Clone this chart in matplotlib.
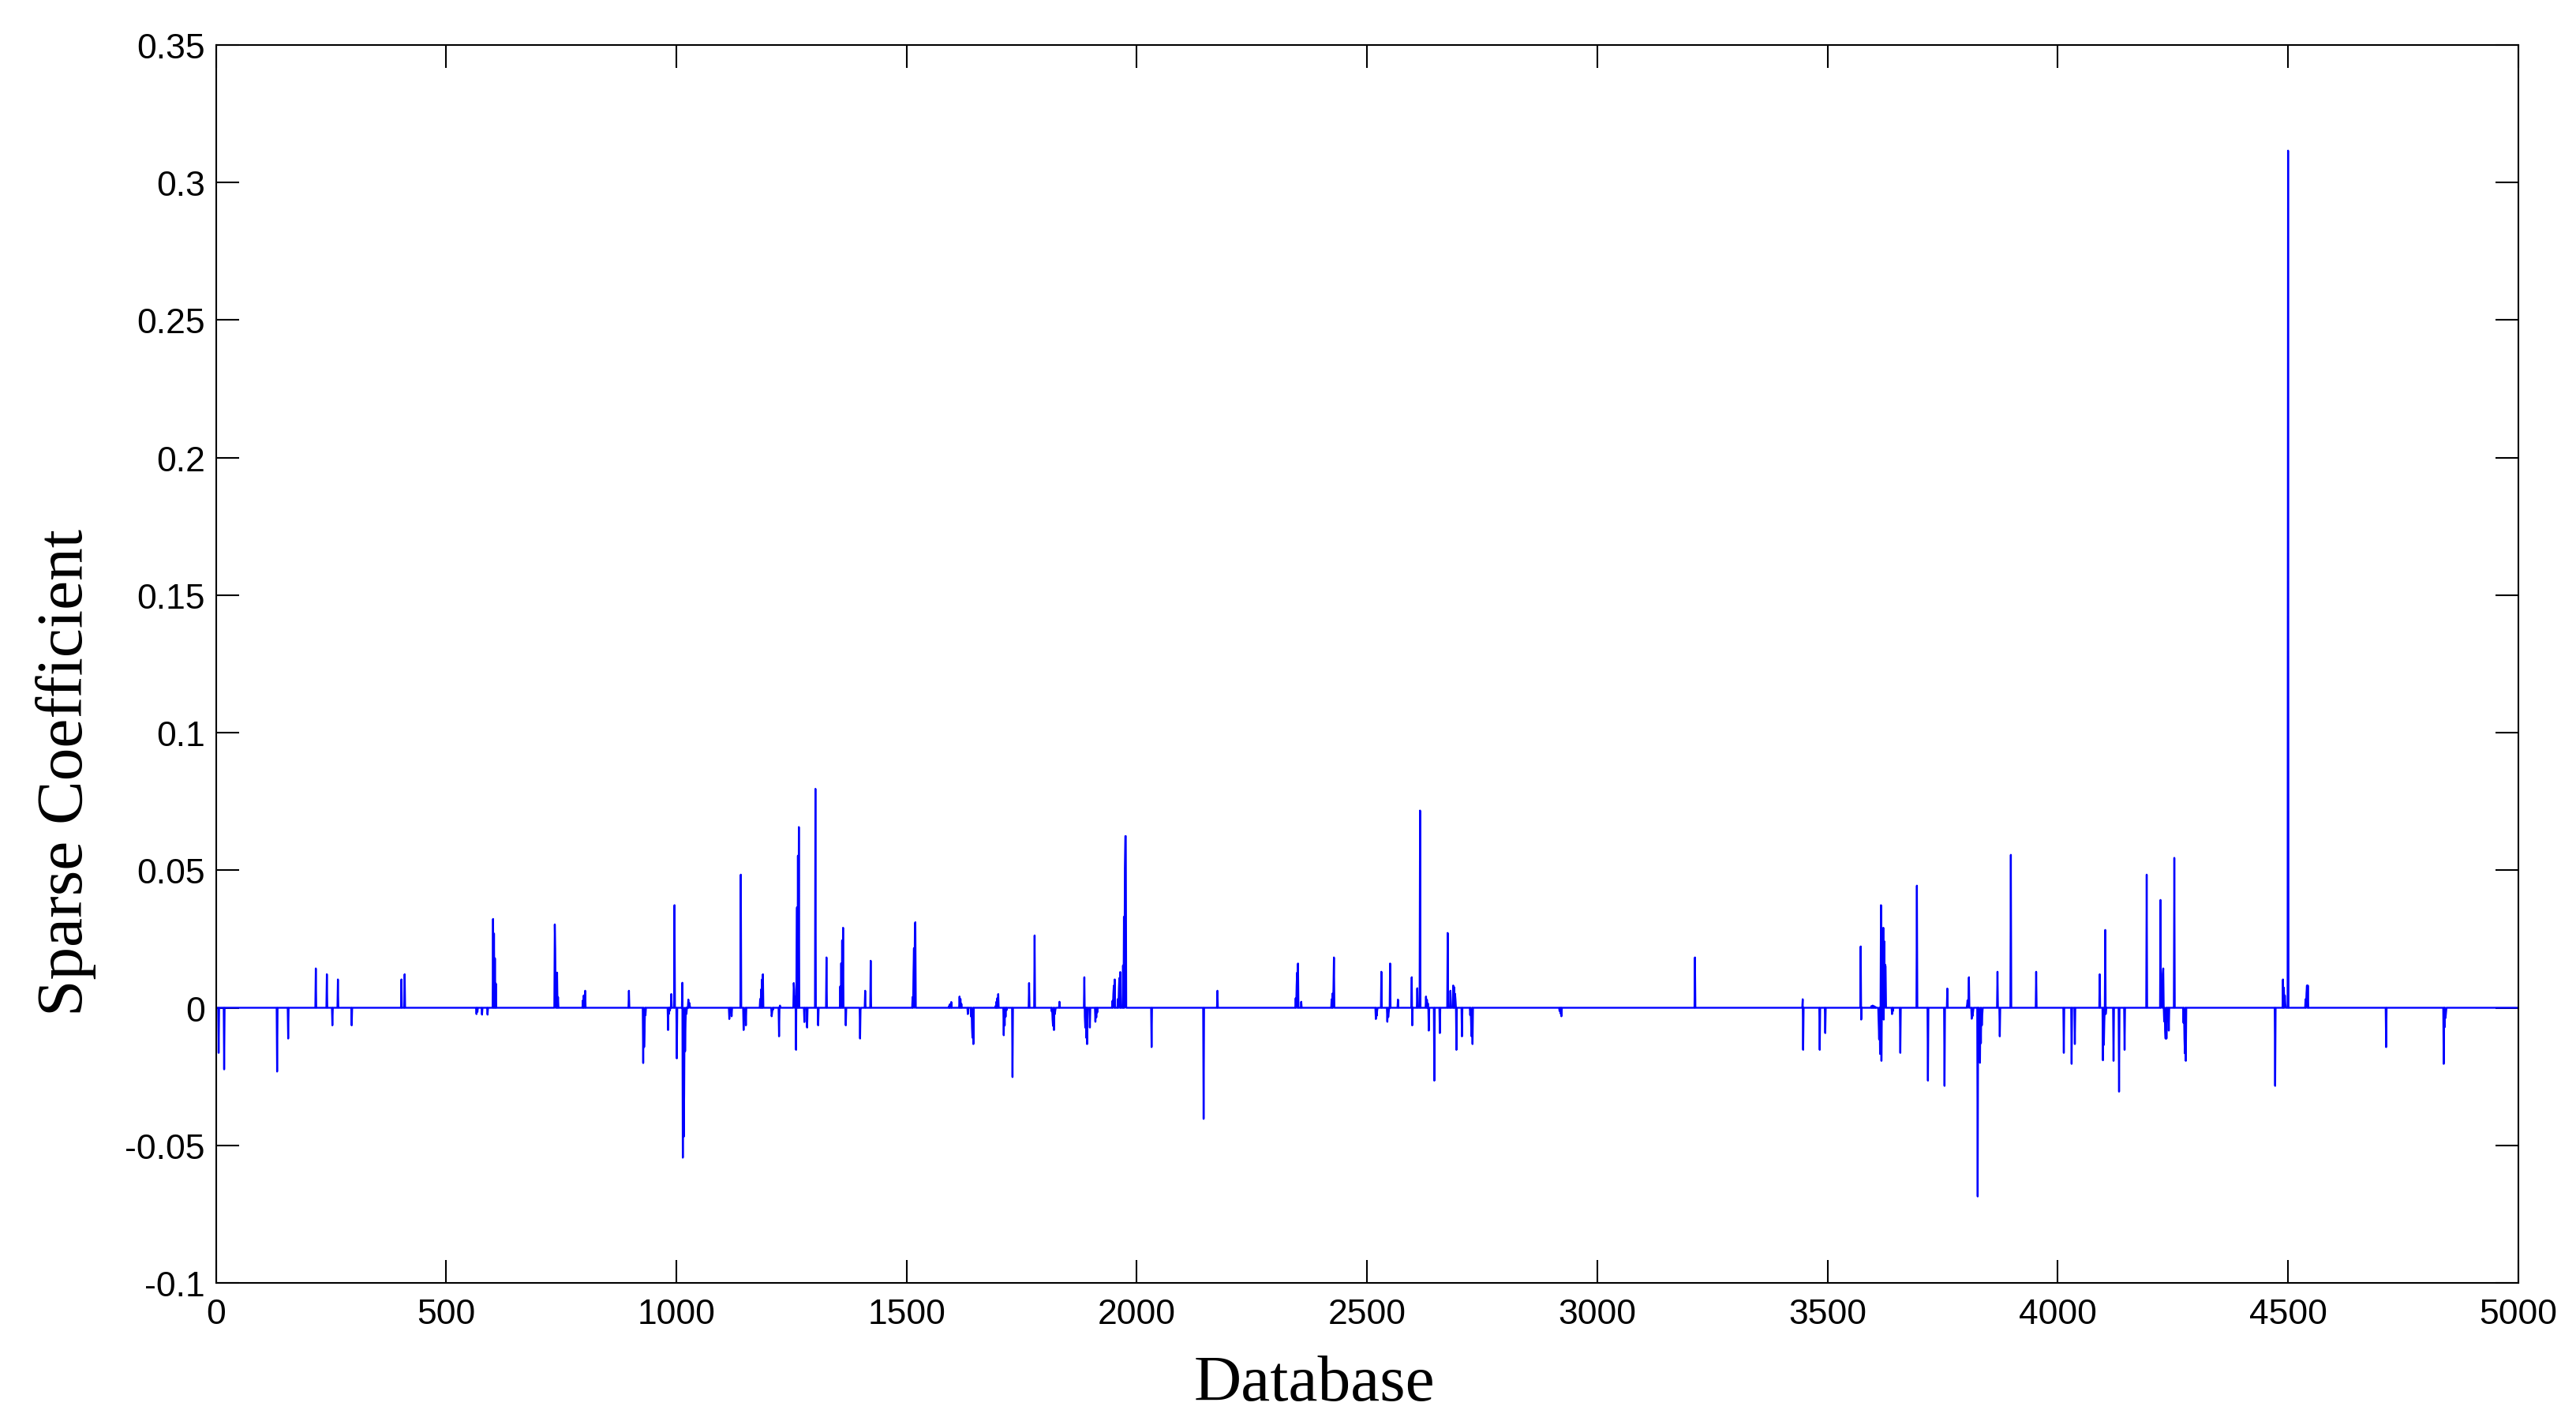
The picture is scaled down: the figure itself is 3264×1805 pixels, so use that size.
import numpy as np
import matplotlib
matplotlib.use("Agg")
import matplotlib.pyplot as plt

plt.rcParams['font.family'] = ['Liberation Sans', 'DejaVu Sans']

# sparse coefficient vector: only the non-zero entries are listed (index, value)
spike_index = [
    6, 18, 133, 157, 217, 241, 253, 265, 295, 403, 410,
    566, 568, 578, 590, 602, 604, 606, 608,
    736, 737, 741, 743, 797, 799, 802,
    897, 928, 930, 931, 933, 982, 984, 986, 989, 996, 1001,
    1013, 1014, 1016, 1017, 1019, 1020, 1022, 1026, 1028, 1029,
    1115, 1118, 1120, 1140, 1146, 1148, 1149, 1151,
    1182, 1184, 1186, 1188, 1207, 1208, 1210, 1223, 1225,
    1255, 1256, 1258, 1260, 1261, 1262, 1264, 1266,
    1278, 1284, 1302, 1308, 1326, 1356, 1358, 1360, 1362, 1368,
    1399, 1400, 1410, 1422, 1513, 1515, 1516, 1518, 1519,
    1592, 1594, 1597, 1615, 1617, 1619, 1633, 1640, 1642, 1643, 1645,
    1693, 1695, 1697, 1699, 1711, 1713, 1715, 1717, 1730, 1766, 1778,
    1815, 1817, 1818, 1820, 1822, 1823, 1832,
    1886, 1887, 1888, 1890, 1892, 1898, 1910, 1912, 1914,
    1947, 1949, 1950, 1952, 1959, 1961, 1962, 1964,
    1970, 1972, 1974, 1975, 1976,
    2032, 2145, 2175, 2345, 2347, 2348, 2350, 2357,
    2423, 2425, 2427, 2428, 2519, 2521, 2522, 2531,
    2544, 2546, 2547, 2550, 2567, 2597, 2598, 2609, 2615,
    2628, 2630, 2632, 2634, 2646, 2658, 2675, 2681,
    2687, 2689, 2691, 2692, 2694, 2706, 2724, 2726, 2727, 2729,
    2918, 2920, 2922, 3212,
    3446, 3447, 3483, 3495, 3572, 3573, 3595, 3598, 3601, 3604,
    3611, 3612, 3614, 3616, 3617, 3621, 3622, 3623, 3625, 3626,
    3640, 3642, 3658, 3694, 3718, 3754, 3760,
    3803, 3804, 3806, 3807, 3813, 3815, 3816,
    3826, 3828, 3830, 3831, 3833, 3835, 3836,
    3869, 3874, 3898, 3953, 4013, 4030, 4037, 4091,
    4098, 4100, 4101, 4103, 4104, 4121, 4133, 4145, 4193,
    4223, 4225, 4226, 4228, 4229, 4231, 4233, 4234, 4236, 4241, 4253,
    4273, 4275, 4276, 4278, 4472, 4489, 4491, 4493, 4494, 4500,
    4538, 4540, 4541, 4543, 4713, 4838, 4840, 4842, 4843,
]
spike_value = [
    -0.0164, -0.0224, -0.0232, -0.0112, 0.0143, 0.0122, -0.0064, 0.0103, -0.0064, 0.0103, 0.0122,
    -0.0023, -0.0015, -0.0025, -0.0025, 0.0323, 0.027, 0.018, 0.0088,
    0.0303, 0.0214, 0.0128, 0.0039, 0.0027, 0.0045, 0.0062,
    0.0062, -0.0201, -0.0143, -0.0084, -0.0027, -0.0081, -0.0022, -0.001, 0.005, 0.0373, -0.0184,
    0.0091, -0.0545, -0.0469, -0.0312, -0.0158, -0.0052, -0.0022, 0.003, 0.0018, 0.001,
    -0.0041, -0.0016, -0.0031, 0.0484, -0.0081, -0.0042, -0.0013, -0.0064,
    0.0032, 0.0067, 0.0103, 0.0122, -0.0031, -0.0017, -0.0007, -0.0104, 0.0008,
    0.009, 0.0065, 0.0039, -0.0153, 0.018, 0.0365, 0.0553, 0.0657,
    -0.0052, -0.0072, 0.0796, -0.0064, 0.0183, 0.0078, 0.0162, 0.0245, 0.0291, -0.0064,
    -0.0112, -0.0007, 0.0062, 0.0171, 0.0039, 0.0128, 0.0217, 0.0303, 0.0311,
    0.0006, 0.0013, 0.0021, 0.0041, 0.0032, 0.0014, -0.0023, -0.0032, -0.0071, -0.0109, -0.0132,
    0.0006, 0.0022, 0.0035, 0.005, -0.01, -0.0064, -0.0033, -0.0009, -0.0252, 0.009, 0.0263,
    -0.0013, -0.0043, -0.0066, -0.0081, -0.0023, -0.0009, 0.0022,
    0.0111, -0.0033, -0.0072, -0.0109, -0.0132, -0.0072, -0.0051, -0.0035, -0.0017,
    0.0025, 0.0051, 0.0081, 0.0103, 0.0032, 0.007, 0.0108, 0.013,
    0.0154, 0.0331, 0.0509, 0.0624, 0.0624,
    -0.0143, -0.0404, 0.0062, 0.0035, 0.0081, 0.0128, 0.0161, 0.0022,
    0.0031, 0.0052, 0.0075, 0.0183, -0.0041, -0.0029, -0.0009, 0.0131,
    -0.0051, -0.0034, -0.0017, 0.0161, 0.003, 0.0111, -0.0064, 0.0071, 0.0717,
    0.0041, 0.0029, 0.0016, -0.0083, -0.0265, -0.0092, 0.0272, 0.0062,
    0.0081, 0.0075, 0.0051, 0.003, -0.0153, -0.0104, -0.0027, -0.0066, -0.0104, -0.0132,
    -0.0012, -0.0021, -0.0031, 0.0183,
    0.0031, -0.0153, -0.0153, -0.0092, 0.0223, -0.0043, 0.0006, 0.0008, 0.0006, 0.0003,
    -0.006, -0.0115, -0.0168, 0.0373, -0.0193, 0.0291, -0.0043, 0.0242, 0.0157, 0.015,
    -0.0023, -0.0012, -0.0164, 0.0444, -0.0265, -0.0284, 0.007,
    0.001, 0.0027, 0.0036, 0.0111, -0.004, -0.003, -0.0014,
    -0.0686, -0.0119, -0.0179, -0.02, -0.0129, -0.0064, -0.0025,
    0.0131, -0.0104, 0.0556, 0.0131, -0.0164, -0.0204, -0.0132, 0.0122,
    -0.0191, -0.0135, -0.0053, 0.0283, -0.0023, -0.0193, -0.0305, -0.0153, 0.0484,
    0.0392, 0.0081, 0.0071, 0.0122, 0.0143, -0.005, -0.0081, -0.0112, -0.0112, -0.0083, 0.0545,
    -0.0055, -0.0112, -0.0166, -0.0193, -0.0284, 0.0103, 0.0073, 0.0045, 0.0016, 0.3116,
    0.0031, 0.0052, 0.0081, 0.0081, -0.0143, -0.0204, -0.0071, -0.0037, -0.0019,
]
n_atoms = 5000

xtick_vals = [0, 500, 1000, 1500, 2000, 2500, 3000, 3500, 4000, 4500, 5000]
ytick_vals = [-0.1, -0.05, 0, 0.05, 0.1, 0.15, 0.2, 0.25, 0.3, 0.35]
ytick_labels = ['-0.1', '-0.05', '0', '0.05', '0.1', '0.15', '0.2', '0.25', '0.3', '0.35']

coef = np.zeros(n_atoms)
coef[np.array(spike_index) - 1] = spike_value
x = np.arange(1, n_atoms + 1)

fig = plt.figure(figsize=(16.32, 9.03), dpi=200)
ax = fig.add_axes([0.0838, 0.0997, 0.8938, 0.8682])
ax.plot(x, coef, color=(0, 0, 1), linewidth=0.85)

ax.set_xlim(0, 5000)
ax.set_ylim(-0.1, 0.35)
ax.set_xticks(xtick_vals)
ax.set_xticklabels([str(v) for v in xtick_vals])
ax.set_yticks(ytick_vals)
ax.set_yticklabels(ytick_labels)
ax.tick_params(direction='in', length=10.4, width=0.75, labelsize=16,
               top=True, right=True, pad=5)
ax.tick_params(axis='x', pad=7)
for s in ax.spines.values():
    s.set_linewidth(0.75)

serif = ['Liberation Serif', 'DejaVu Serif']
ax.set_xlabel('Database', family=serif, fontsize=30, va='center')
ax.set_ylabel('Sparse Coefficient', family=serif, fontsize=30, va='center')
ax.xaxis.set_label_coords(0.477, -0.082)
ax.yaxis.set_label_coords(-0.0653, 0.413)

fig.savefig('out.png', dpi=200)
